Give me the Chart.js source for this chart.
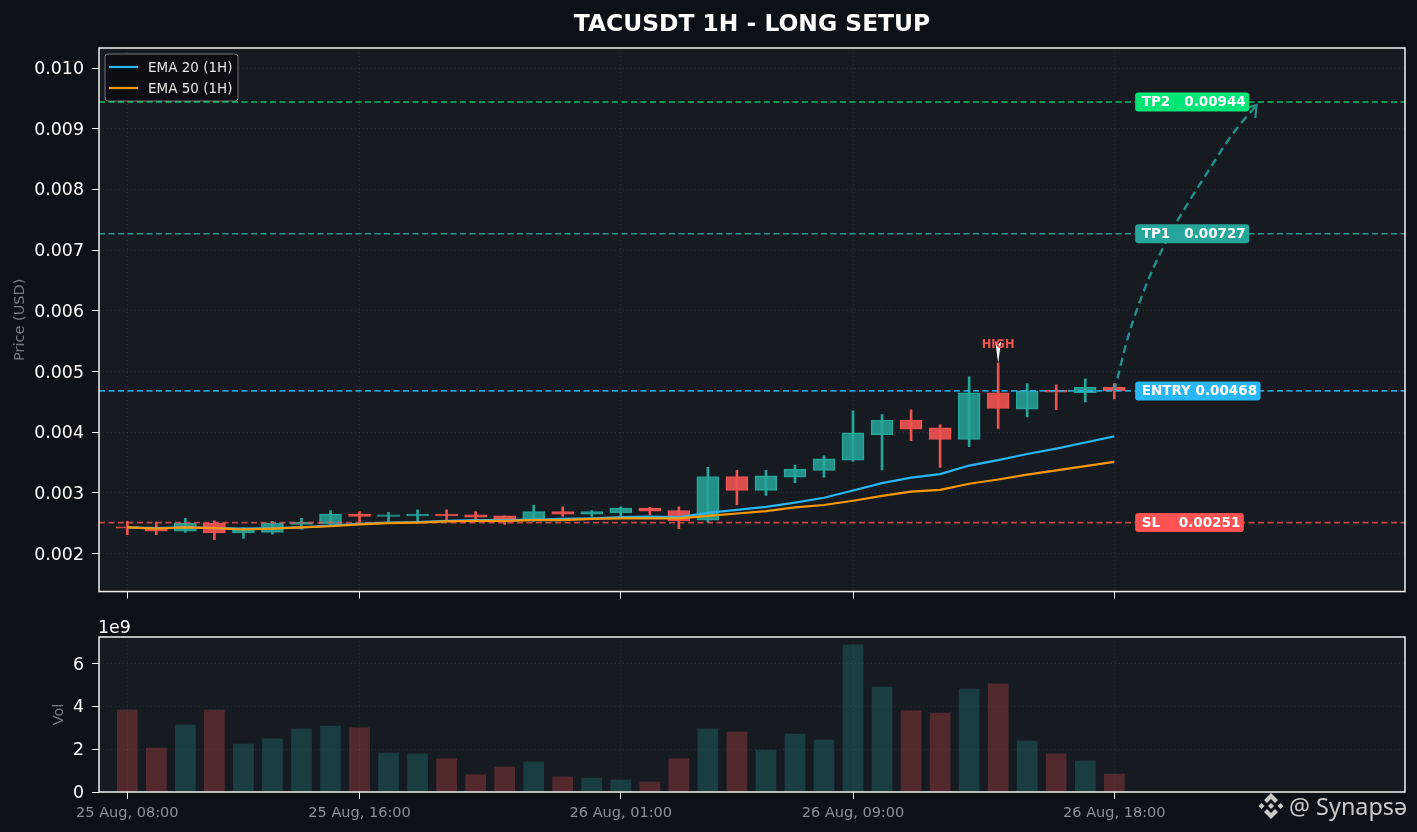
<!DOCTYPE html>
<html>
<head>
<meta charset="utf-8">
<title>TACUSDT 1H - LONG SETUP</title>
<script src="https://cdn.jsdelivr.net/npm/chart.js@4/dist/chart.umd.min.js"></script>
<style>
  html, body { margin: 0; padding: 0; background: #0c1017; width: 1417px; height: 832px; overflow: hidden; }
  canvas { position: absolute; left: 0; }
  #priceChart { top: 0; }
  #volChart { top: 610px; }
  .mark { position: absolute; left: 1257px; top: 792px; width: 28px; height: 28px; }
  .brand { position: absolute; left: 1289px; top: 790px; font: 23.4px "Noto Sans", sans-serif; color: #c9c9c9; white-space: nowrap; }
</style>
</head>
<body>
<canvas id="priceChart" width="1417" height="610"></canvas>
<canvas id="volChart" width="1417" height="222"></canvas>
<svg class="mark" viewBox="0 0 28 28" fill="#c9c9c9">
  <path d="M14 1l7 7-3 3-4-4-4 4-3-3z"/>
  <path d="M14 27l7-7-3-3-4 4-4-4-3 3z"/>
  <path d="M4.5 11L7.5 14l-3 3L1.5 14z"/>
  <path d="M23.5 11L26.5 14l-3 3-3-3z"/>
  <path d="M14 11l3 3-3 3-3-3z"/>
</svg>
<div class="brand">@ Synapsə</div>

<script>
const opens = [0.00244, 0.00243, 0.00237, 0.00250, 0.00234, 0.00235, 0.00248, 0.00249, 0.00265, 0.00261, 0.00262, 0.00265, 0.00264, 0.00262, 0.00255, 0.00269, 0.00265, 0.00267, 0.00275, 0.00271, 0.00255, 0.00327, 0.00304, 0.00326, 0.00337, 0.00354, 0.00396, 0.00420, 0.00407, 0.00388, 0.00465, 0.00438, 0.00469, 0.00465, 0.00474];
const highs = [0.00253, 0.00252, 0.00258, 0.00254, 0.00243, 0.00253, 0.00258, 0.00271, 0.00269, 0.00268, 0.00272, 0.00272, 0.00269, 0.00262, 0.00280, 0.00277, 0.00271, 0.00277, 0.00276, 0.00277, 0.00342, 0.00337, 0.00337, 0.00346, 0.00361, 0.00435, 0.00429, 0.00437, 0.00412, 0.00491, 0.00514, 0.00480, 0.00478, 0.00488, 0.00480];
const lows = [0.00231, 0.00231, 0.00235, 0.00223, 0.00225, 0.00232, 0.00240, 0.00248, 0.00252, 0.00253, 0.00253, 0.00256, 0.00255, 0.00248, 0.00253, 0.00261, 0.00261, 0.00261, 0.00264, 0.00241, 0.00252, 0.00280, 0.00296, 0.00317, 0.00326, 0.00352, 0.00338, 0.00386, 0.00342, 0.00376, 0.00406, 0.00425, 0.00437, 0.00450, 0.00455];
const closes = [0.00242, 0.00237, 0.00250, 0.00234, 0.00240, 0.00250, 0.00252, 0.00265, 0.00261, 0.00264, 0.00265, 0.00262, 0.00260, 0.00256, 0.00269, 0.00265, 0.00269, 0.00275, 0.00270, 0.00254, 0.00327, 0.00304, 0.00328, 0.00339, 0.00356, 0.00399, 0.00420, 0.00405, 0.00388, 0.00465, 0.00439, 0.00468, 0.00466, 0.00474, 0.00468];
const ema20 = [0.00243, 0.00242, 0.00243, 0.00242, 0.00241, 0.00242, 0.00243, 0.00246, 0.00249, 0.00251, 0.00252, 0.00254, 0.00255, 0.00255, 0.00256, 0.00257, 0.00258, 0.00260, 0.00261, 0.00260, 0.00267, 0.00272, 0.00277, 0.00284, 0.00292, 0.00304, 0.00316, 0.00325, 0.00331, 0.00345, 0.00354, 0.00364, 0.00373, 0.00383, 0.00393];
const ema50 = [0.00243, 0.00241, 0.00243, 0.00242, 0.00240, 0.00241, 0.00243, 0.00245, 0.00248, 0.00250, 0.00251, 0.00253, 0.00254, 0.00254, 0.00255, 0.00255, 0.00257, 0.00258, 0.00258, 0.00258, 0.00262, 0.00266, 0.00270, 0.00276, 0.00280, 0.00287, 0.00295, 0.00302, 0.00305, 0.00315, 0.00322, 0.00330, 0.00337, 0.00344, 0.00351];
const volumes = [3.83, 2.05, 3.13, 3.83, 2.24, 2.48, 2.95, 3.08, 3.0, 1.82, 1.78, 1.55, 0.8, 1.17, 1.4, 0.7, 0.65, 0.56, 0.47, 1.55, 2.95, 2.8, 1.96, 2.71, 2.43, 6.87, 4.9, 3.79, 3.69, 4.81, 5.05, 2.38, 1.78, 1.45, 0.84];

const tickIndexes = [0, 8, 17, 25, 34];
const tickLabels = ["25 Aug, 08:00", "25 Aug, 16:00", "26 Aug, 01:00", "26 Aug, 09:00", "26 Aug, 18:00"];

const levelNames = ["TP2", "TP1", "ENTRY", "SL"];
const levelPrices = [0.00944, 0.00727, 0.00468, 0.00251];
const levelTags = ["TP2   0.00944", "TP1   0.00727", "ENTRY 0.00468", "SL    0.00251"];

const arrowX = [34, 34.55, 35.24, 36.1, 37.3, 38.1, 38.9];
const arrowY = [0.00468, 0.00569, 0.00659, 0.00742, 0.00835, 0.00893, 0.00939];

const highIndex = 30;

const TEAL = "#26a69a";
const RED = "#ef5350";
const levelColors = { TP2: "rgba(0,230,118,0.8)", TP1: "rgba(38,166,154,0.9)", ENTRY: "rgba(41,182,246,0.85)", SL: "rgba(239,83,80,0.8)" };
const tagColors = { TP2: "#00e676", TP1: "#26a69a", ENTRY: "#29b6f6", SL: "#ff5252" };
const GRID = "rgba(255,255,255,0.08)";
const FONT = '"DejaVu Sans"';

const xMin = -0.975;
const xMax = 44.015;
const indexes = opens.map((_, i) => i);
const isUp = indexes.map((i) => closes[i] >= opens[i]);
const xy = (xs, ys) => xs.map((x, i) => ({ x, y: ys[i] }));

// plot background and the four sided frame
const framePlugin = {
  id: "frame",
  beforeDraw(chart) {
    const { ctx, chartArea: a } = chart;
    ctx.save();
    ctx.fillStyle = "#161b22";
    ctx.fillRect(a.left, a.top, a.width, a.height);
    ctx.restore();
  },
  afterDraw(chart) {
    const { ctx, chartArea: a } = chart;
    ctx.save();
    ctx.strokeStyle = "#f0f0f0";
    ctx.lineWidth = 1.5;
    ctx.strokeRect(a.left, a.top, a.width, a.height);
    ctx.restore();
  },
};

const notesPlugin = {
  id: "notes",
  afterDraw(chart) {
    const { ctx } = chart;
    const x = chart.scales.x;
    const y = chart.scales.y;
    ctx.save();

    // arrow head on the projection
    const n = arrowX.length - 1;
    const tipX = x.getPixelForValue(arrowX[n]);
    const tipY = y.getPixelForValue(arrowY[n]);
    const ang = Math.atan2(tipY - y.getPixelForValue(arrowY[n - 1]), tipX - x.getPixelForValue(arrowX[n - 1]));
    ctx.strokeStyle = "rgba(38,166,154,0.85)";
    ctx.lineWidth = 2.2;
    ctx.beginPath();
    ctx.moveTo(tipX - 13 * Math.cos(ang - 0.6), tipY - 13 * Math.sin(ang - 0.6));
    ctx.lineTo(tipX, tipY);
    ctx.lineTo(tipX - 13 * Math.cos(ang + 0.6), tipY - 13 * Math.sin(ang + 0.6));
    ctx.stroke();

    // level tags
    ctx.font = "bold 13.5px " + FONT;
    ctx.textBaseline = "middle";
    ctx.textAlign = "left";
    const tagLeft = x.getPixelForValue(34.72);
    levelNames.forEach((name, i) => {
      const cy = y.getPixelForValue(levelPrices[i]);
      const w = ctx.measureText(levelTags[i]).width + 10;
      ctx.fillStyle = tagColors[name];
      ctx.beginPath();
      ctx.roundRect(tagLeft, cy - 9.5, w, 19, 3);
      ctx.fill();
      ctx.fillStyle = "#ffffff";
      ctx.fillText(levelTags[i], tagLeft + 6.5, cy + 0.5);
    });

    // HIGH marker
    const hx = x.getPixelForValue(highIndex);
    const hy = y.getPixelForValue(highs[highIndex]);
    ctx.fillStyle = "#ffffff";
    ctx.beginPath();
    ctx.moveTo(hx, hy);
    ctx.lineTo(hx - 3, hy - 22);
    ctx.lineTo(hx, hy - 18);
    ctx.lineTo(hx + 3, hy - 22);
    ctx.closePath();
    ctx.fill();
    ctx.fillStyle = "#ef5350";
    ctx.font = "bold 11.5px " + FONT;
    ctx.textAlign = "center";
    ctx.fillText("HIGH", hx, hy - 18);

    // legend box
    const a = chart.chartArea;
    const lx = a.left + 6;
    const ly = a.top + 6;
    ctx.fillStyle = "rgba(10,12,16,0.85)";
    ctx.strokeStyle = "rgba(255,255,255,0.4)";
    ctx.lineWidth = 1;
    ctx.beginPath();
    ctx.roundRect(lx, ly, 133, 47, 3);
    ctx.fill();
    ctx.stroke();
    ctx.textAlign = "left";
    ctx.font = "13.5px " + FONT;
    [["EMA 20 (1H)", "#29b6f6"], ["EMA 50 (1H)", "#ff9800"]].forEach(([label, color], i) => {
      const ry = ly + 13 + i * 21;
      ctx.strokeStyle = color;
      ctx.lineWidth = 2.2;
      ctx.beginPath();
      ctx.moveTo(lx + 4, ry);
      ctx.lineTo(lx + 33, ry);
      ctx.stroke();
      ctx.fillStyle = "#e6e6e6";
      ctx.fillText(label, lx + 43, ry + 1);
    });
    ctx.restore();
  },
};

const xAxis = (extra) => Object.assign({
  type: "linear",
  min: xMin,
  max: xMax,
  offset: false,
  afterBuildTicks(scale) {
    scale.ticks = tickIndexes.map((value) => ({ value }));
  },
  grid: {
    offset: false,
    color: GRID,
    tickColor: "#f0f0f0",
    tickLength: 7,
    tickBorderDash: [],
  },
  border: { display: false, dash: [1, 3] },
}, extra);

new Chart(document.getElementById("priceChart"), {
  type: "bar",
  plugins: [framePlugin, notesPlugin],
  data: {
    datasets: [
      {
        type: "line",
        order: 0,
        data: xy(arrowX, arrowY),
        borderColor: "rgba(38,166,154,0.85)",
        borderWidth: 2.4,
        borderDash: [8, 5],
        pointRadius: 0,
        tension: 0.3,
      },
      {
        type: "line",
        label: "EMA 20 (1H)",
        order: 1,
        data: xy(indexes, ema20),
        borderColor: "#29b6f6",
        borderWidth: 2.2,
        pointRadius: 0,
        tension: 0,
      },
      {
        type: "line",
        label: "EMA 50 (1H)",
        order: 0.5,
        data: xy(indexes, ema50),
        borderColor: "#ff9800",
        borderWidth: 2.2,
        pointRadius: 0,
        tension: 0,
      },
      ...levelNames.map((name, i) => ({
        type: "line",
        order: 2,
        data: [{ x: xMin, y: levelPrices[i] }, { x: xMax, y: levelPrices[i] }],
        borderColor: levelColors[name],
        borderWidth: 1.6,
        borderDash: [6, 3.5],
        pointRadius: 0,
      })),
      {
        order: 3,
        grouped: false,
        barThickness: 2,
        data: indexes.map((i) => ({ x: i, y: [lows[i], highs[i]] })),
        backgroundColor: indexes.map((i) => (isUp[i] ? TEAL : RED)),
        borderWidth: 0,
      },
      {
        order: 4,
        grouped: false,
        barThickness: 22,
        data: indexes.map((i) => ({ x: i, y: [opens[i], closes[i]] })),
        backgroundColor: indexes.map((i) => (isUp[i] ? "rgba(38,166,154,0.85)" : "rgba(239,83,80,0.9)")),
        borderColor: indexes.map((i) => (isUp[i] ? TEAL : RED)),
        borderWidth: 1,
        borderSkipped: false,
      },
    ],
  },
  options: {
    responsive: false,
    animation: false,
    layout: { padding: { right: 12 } },
    plugins: {
      legend: { display: false },
      tooltip: { enabled: false },
      title: {
        display: true,
        text: "TACUSDT 1H - LONG SETUP",
        color: "#ffffff",
        fullSize: false,
        font: { family: FONT, size: 23.4, weight: "bold", lineHeight: 1.2 },
        padding: { top: 11, bottom: 8.92 },
      },
    },
    scales: {
      x: xAxis({
        afterFit(scale) { scale.height = 8; },
        ticks: { display: false },
      }),
      y: {
        min: 0.001374,
        max: 0.01033,
        afterFit(scale) { scale.width = 99; },
        title: {
          display: true,
          text: "Price (USD)",
          color: "#777b82",
          font: { family: FONT, size: 14.5 },
          padding: { top: 12, bottom: 0 },
        },
        ticks: {
          stepSize: 0.001,
          includeBounds: false,
          color: "#ffffff",
          font: { family: FONT, size: 17.4 },
          padding: 8,
          labelOffset: 1.5,
          callback: (v) => v.toFixed(3),
        },
        grid: { color: GRID, tickColor: "#f0f0f0", tickLength: 7, tickBorderDash: [] },
        border: { display: false, dash: [1, 3] },
      },
    },
  },
});

const volLabelPlugin = {
  id: "volLabel",
  afterDraw(chart) {
    const { ctx, chartArea: a } = chart;
    ctx.save();
    ctx.fillStyle = "#ffffff";
    ctx.font = "17.4px " + FONT;
    ctx.textBaseline = "bottom";
    ctx.fillText("1e9", a.left - 1, a.top);
    ctx.restore();
  },
};

new Chart(document.getElementById("volChart"), {
  type: "bar",
  plugins: [framePlugin, volLabelPlugin],
  data: {
    datasets: [
      {
        barThickness: 20,
        grouped: false,
        data: indexes.map((i) => ({ x: i, y: volumes[i] })),
        backgroundColor: indexes.map((i) => (isUp[i] ? "rgba(38,166,154,0.25)" : "rgba(239,83,80,0.28)")),
      },
    ],
  },
  options: {
    responsive: false,
    animation: false,
    layout: { padding: { top: 27, right: 12 } },
    plugins: { legend: { display: false }, tooltip: { enabled: false } },
    scales: {
      x: xAxis({
        afterFit(scale) { scale.height = 40; },
        ticks: {
          autoSkip: false,
          maxRotation: 0,
          color: "#8b8f96",
          font: { family: FONT, size: 14.5 },
          padding: 6,
          callback: (v) => tickLabels[tickIndexes.indexOf(v)],
        },
      }),
      y: {
        min: 0,
        max: 7.24,
        afterFit(scale) { scale.width = 99; },
        title: {
          display: true,
          text: "Vol",
          color: "#777b82",
          font: { family: FONT, size: 14.5 },
          padding: { top: 51, bottom: 0 },
        },
        ticks: {
          stepSize: 2,
          includeBounds: false,
          color: "#ffffff",
          font: { family: FONT, size: 17.4 },
          padding: 8,
          labelOffset: 1.5,
        },
        grid: { color: GRID, tickColor: "#f0f0f0", tickLength: 7, tickBorderDash: [] },
        border: { display: false, dash: [1, 3] },
      },
    },
  },
});
</script>
</body>
</html>
